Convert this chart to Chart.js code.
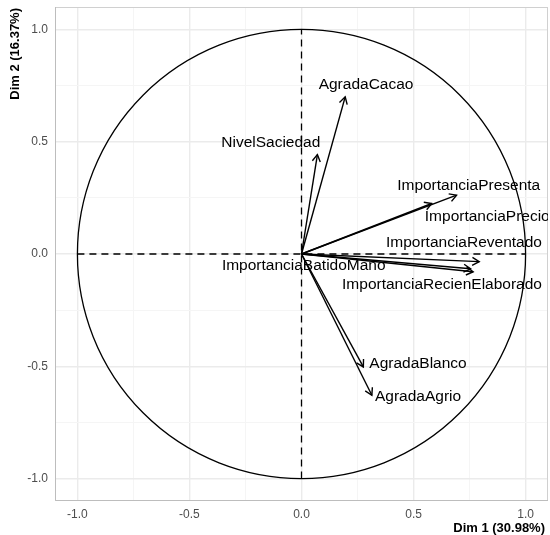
<!DOCTYPE html>
<html>
<head>
<meta charset="utf-8">
<script src="https://cdn.jsdelivr.net/npm/chart.js@4/dist/chart.umd.min.js"></script>
<style>
html,body{margin:0;padding:0;background:#fff;}
#wrap{width:550px;height:535px;}
</style>
</head>
<body>
<div id="wrap"><canvas id="c" width="550" height="535"></canvas></div>
<script>
const variables = ['AgradaCacao','NivelSaciedad','ImportanciaPresenta','ImportanciaPrecio','ImportanciaReventado','ImportanciaRecienElaborado','ImportanciaBatidoMano','AgradaBlanco','AgradaAgrio'];
const dim1 = [0.195, 0.071, 0.692, 0.581, 0.793, 0.766, 0.755, 0.276, 0.314];
const dim2 = [0.700, 0.443, 0.262, 0.225, -0.034, -0.079, -0.066, -0.503, -0.629];
const labelDim1 = [0.288, -0.137, 0.746, 0.829, 0.725, 0.627, 0.010, 0.520, 0.520];
const labelDim2 = [0.752, 0.494, 0.306, 0.165, 0.051, -0.139, -0.050, -0.488, -0.637];
const tickValues = [-1, -0.75, -0.5, -0.25, 0, 0.25, 0.5, 0.75, 1];
const majorTicks = [-1, -0.5, 0, 0.5, 1];
const xTitle = 'Dim 1 (30.98%)';
const yTitle = 'Dim 2 (16.37%)';

const FONT = '"Liberation Sans", Arial, Helvetica, sans-serif';

const datasets = variables.map((name, i) => ({
  label: name,
  type: 'line',
  data: [{x: 0, y: 0}, {x: dim1[i], y: dim2[i]}],
  borderColor: '#000',
  borderWidth: 1.4,
  pointRadius: 0,
  fill: false,
  tension: 0
}));

const isMajor = v => majorTicks.some(m => Math.abs(m - v) < 1e-9);

const pcaPlugin = {
  id: 'pca',
  beforeDatasetsDraw(chart) {
    const {ctx, chartArea: a, scales: {x, y}} = chart;
    ctx.save();
    // panel border
    ctx.strokeStyle = '#d0d0d0';
    ctx.lineWidth = 1;
    ctx.strokeRect(a.left + 0.5, a.top + 0.5, a.right - a.left - 1, a.bottom - a.top - 1);
    ctx.strokeStyle = '#bdbdbd';
    ctx.beginPath();
    ctx.moveTo(a.left + 0.5, a.top);
    ctx.lineTo(a.left + 0.5, a.bottom - 0.5);
    ctx.lineTo(a.right, a.bottom - 0.5);
    ctx.stroke();
    ctx.beginPath();
    ctx.rect(a.left, a.top, a.right - a.left, a.bottom - a.top);
    ctx.clip();
    // unit circle
    const cx = x.getPixelForValue(0), cy = y.getPixelForValue(0);
    const rx = x.getPixelForValue(1) - cx, ry = cy - y.getPixelForValue(1);
    ctx.strokeStyle = '#000';
    ctx.lineWidth = 1.3;
    ctx.beginPath();
    ctx.ellipse(cx, cy, rx, ry, 0, 0, Math.PI * 2);
    ctx.stroke();
    // dashed axes
    ctx.setLineDash([7, 5]);
    ctx.lineWidth = 1.3;
    ctx.beginPath();
    ctx.moveTo(x.getPixelForValue(-1), cy);
    ctx.lineTo(x.getPixelForValue(1), cy);
    ctx.moveTo(cx, y.getPixelForValue(-1));
    ctx.lineTo(cx, y.getPixelForValue(1));
    ctx.stroke();
    ctx.restore();
  },
  afterDatasetsDraw(chart) {
    const {ctx, chartArea: a, scales: {x, y}} = chart;
    ctx.save();
    ctx.beginPath();
    ctx.rect(a.left, a.top, a.right - a.left, a.bottom - a.top);
    ctx.clip();
    // arrowheads
    ctx.strokeStyle = '#000';
    ctx.lineWidth = 1.4;
    ctx.setLineDash([]);
    const cx = x.getPixelForValue(0), cy = y.getPixelForValue(0);
    variables.forEach((n, i) => {
      const px = x.getPixelForValue(dim1[i]), py = y.getPixelForValue(dim2[i]);
      const ang = Math.atan2(py - cy, px - cx);
      const L = 8, h = Math.PI / 6;
      ctx.beginPath();
      ctx.moveTo(px - L * Math.cos(ang - h), py - L * Math.sin(ang - h));
      ctx.lineTo(px, py);
      ctx.lineTo(px - L * Math.cos(ang + h), py - L * Math.sin(ang + h));
      ctx.stroke();
    });
    // labels
    ctx.fillStyle = '#000';
    ctx.font = '15.5px ' + FONT;
    ctx.textAlign = 'center';
    ctx.textBaseline = 'middle';
    variables.forEach((n, i) => {
      ctx.fillText(n, x.getPixelForValue(labelDim1[i]), y.getPixelForValue(labelDim2[i]));
    });
    ctx.restore();
    // axis titles
    ctx.save();
    ctx.fillStyle = '#000';
    ctx.font = 'bold 13px ' + FONT;
    ctx.textAlign = 'right';
    ctx.textBaseline = 'middle';
    ctx.fillText(xTitle, a.right - 3, 528);
    ctx.translate(15, a.top + 1);
    ctx.rotate(-Math.PI / 2);
    ctx.textAlign = 'right';
    ctx.fillText(yTitle, 0, 0);
    ctx.restore();
  }
};

const axisCommon = (axis) => ({
  type: 'linear',
  min: -1.1,
  max: 1.1,
  afterBuildTicks(s) { s.ticks = tickValues.map(v => ({value: v})); },
  grid: {
    drawTicks: false,
    color: c => (c.tick && isMajor(c.tick.value)) ? '#ebebeb' : '#f5f5f5',
    lineWidth: c => (c.tick && isMajor(c.tick.value)) ? 1.4 : 1
  },
  border: {display: false},
  ticks: {
    autoSkip: false,
    color: '#4d4d4d',
    font: {family: FONT, size: 12},
    padding: axis === 'x' ? 6 : 7,
    callback: v => isMajor(v) ? Number(v).toFixed(1) : ''
  }
});

const xAxis = axisCommon('x');
xAxis.position = 'bottom';
xAxis.afterFit = s => { s.height = 34; s.paddingLeft = 0; s.paddingRight = 0; };
const yAxis = axisCommon('y');
yAxis.position = 'left';
yAxis.afterFit = s => { s.width = 55; s.paddingTop = 0; s.paddingBottom = 0; };

new Chart(document.getElementById('c'), {
  type: 'scatter',
  data: {datasets},
  options: {
    responsive: false,
    devicePixelRatio: 1,
    animation: false,
    layout: {padding: {top: 7, right: 2, left: 0, bottom: 0}},
    plugins: {legend: {display: false}, tooltip: {enabled: false}},
    scales: {x: xAxis, y: yAxis}
  },
  plugins: [pcaPlugin]
});
</script>
</body>
</html>
